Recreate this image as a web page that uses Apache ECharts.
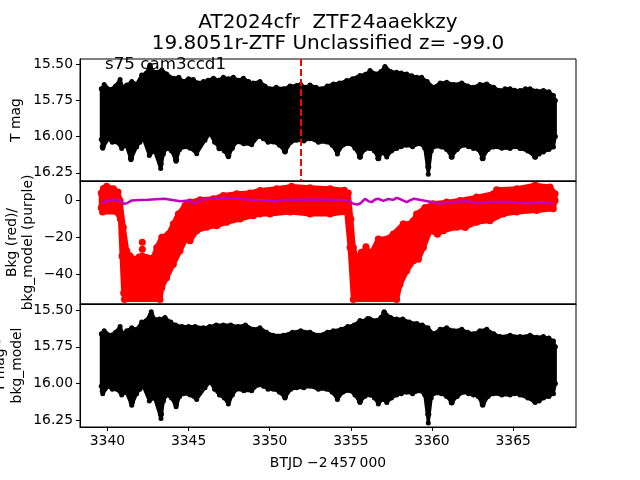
<!DOCTYPE html>
<html>
<head>
<meta charset="utf-8">
<script src="https://cdn.jsdelivr.net/npm/echarts@6/dist/echarts.min.js"></script>
<style>
  html, body { margin: 0; padding: 0; background: #fff; }
  #chart { width: 640px; height: 480px; }
</style>
</head>
<body>
<div id="chart"></div>
<script>
// tick values
var xTicks = [3340, 3345, 3350, 3355, 3360, 3365];
var magTicks = [15.5, 15.75, 16.0, 16.25];
var bkgTicks = [-40, -20, 0];
var markTime = 3351.91;

// T mag envelope (upper = bright edge, lower = faint edge), [BTJD, mag]
var magTop = [
  [3339.62, 15.67], [3339.80, 15.64], [3340.16, 15.675], [3340.50, 15.65], [3340.78, 15.605],
  [3340.95, 15.66], [3341.19, 15.643], [3341.50, 15.62], [3341.80, 15.636], [3342.11, 15.574],
  [3342.40, 15.56], [3342.62, 15.505], [3342.80, 15.55], [3343.03, 15.555], [3343.35, 15.54],
  [3343.65, 15.567], [3344.06, 15.597], [3344.40, 15.59], [3344.68, 15.62], [3345.00, 15.60],
  [3345.29, 15.606], [3345.60, 15.63], [3345.91, 15.62], [3346.20, 15.61], [3346.53, 15.597],
  [3346.85, 15.61], [3347.14, 15.59], [3347.45, 15.60], [3347.76, 15.59], [3348.05, 15.61],
  [3348.38, 15.597], [3348.70, 15.62], [3348.99, 15.629], [3349.40, 15.62], [3349.70, 15.65],
  [3350.02, 15.67], [3350.40, 15.66], [3350.84, 15.67], [3351.25, 15.65], [3351.66, 15.647],
  [3351.91, 15.64], [3352.20, 15.66], [3352.48, 15.643], [3352.85, 15.66], [3353.20, 15.67],
  [3353.55, 15.65], [3353.92, 15.636], [3354.30, 15.63], [3354.74, 15.613], [3355.10, 15.60],
  [3355.56, 15.578], [3355.90, 15.57], [3356.18, 15.544], [3356.59, 15.567], [3356.85, 15.55],
  [3357.10, 15.515], [3357.45, 15.55], [3357.82, 15.555], [3358.10, 15.56], [3358.44, 15.567],
  [3358.75, 15.58], [3359.06, 15.59], [3359.36, 15.59], [3359.70, 15.62], [3360.08, 15.659],
  [3360.50, 15.63], [3360.90, 15.624], [3361.35, 15.64], [3361.83, 15.629], [3362.20, 15.65],
  [3362.55, 15.659], [3362.95, 15.64], [3363.37, 15.636], [3363.80, 15.66], [3364.19, 15.682],
  [3364.50, 15.67], [3364.81, 15.67], [3365.10, 15.68], [3365.42, 15.682], [3365.75, 15.67],
  [3366.04, 15.67], [3366.45, 15.685], [3366.86, 15.682], [3367.20, 15.69], [3367.48, 15.716],
  [3367.60, 15.75]
];
var magBot = [
  [3339.62, 16.02], [3339.71, 16.08], [3340.06, 16.015], [3340.30, 16.04], [3340.57, 16.037],
  [3340.88, 16.083], [3341.15, 16.06], [3341.45, 16.16], [3341.80, 16.072], [3342.00, 16.04],
  [3342.21, 16.015], [3342.58, 16.13], [3342.90, 16.10], [3343.28, 16.22], [3343.45, 16.12],
  [3343.65, 16.083], [3343.95, 16.10], [3344.23, 16.17], [3344.45, 16.09], [3344.68, 16.072],
  [3345.10, 16.08], [3345.50, 16.118], [3346.01, 16.026], [3346.32, 15.98], [3346.60, 16.04],
  [3346.90, 16.079], [3347.20, 16.10], [3347.45, 16.14], [3347.70, 16.08], [3347.96, 16.037],
  [3348.40, 16.05], [3348.89, 16.056], [3349.30, 16.00], [3349.61, 16.015], [3349.90, 16.04],
  [3350.22, 16.037], [3350.60, 16.06], [3350.94, 16.106], [3351.30, 16.04], [3351.66, 16.026],
  [3352.10, 16.03], [3352.48, 16.015], [3353.00, 16.04], [3353.51, 16.037], [3353.85, 16.06],
  [3354.17, 16.12], [3354.50, 16.06], [3354.95, 16.049], [3355.25, 16.08], [3355.56, 16.141],
  [3355.85, 16.09], [3356.18, 16.083], [3356.45, 16.10], [3356.69, 16.152], [3356.95, 16.11],
  [3357.21, 16.141], [3357.50, 16.10], [3357.82, 16.083], [3358.10, 16.07], [3358.44, 16.06],
  [3358.80, 16.07], [3359.26, 16.049], [3359.55, 16.08], [3359.77, 16.26], [3359.95, 16.10],
  [3360.08, 16.072], [3360.59, 16.072], [3360.90, 16.09], [3361.21, 16.141], [3361.55, 16.09],
  [3361.93, 16.06], [3362.25, 16.07], [3362.55, 16.083], [3362.85, 16.09], [3363.12, 16.152],
  [3363.45, 16.09], [3363.78, 16.072], [3364.30, 16.08], [3364.81, 16.083], [3365.10, 16.07],
  [3365.42, 16.083], [3365.90, 16.10], [3366.35, 16.141], [3366.60, 16.12], [3366.86, 16.106],
  [3367.20, 16.09], [3367.48, 16.072], [3367.60, 16.00]
];
var magDots = [
  [3339.71, 16.07], [3341.45, 16.15], [3342.62, 15.52], [3343.28, 16.19], [3344.23, 16.16],
  [3346.90, 16.08], [3347.45, 16.13], [3350.94, 16.10], [3355.56, 16.14], [3356.69, 16.15],
  [3357.10, 15.53], [3359.77, 16.21], [3361.21, 16.14], [3363.12, 16.15], [3366.35, 16.14]
];

// background flux envelope (red) and model (purple)
var bkgTop = [
  [3339.62, 4.0], [3339.75, 6.5], [3339.95, 7.6], [3340.37, 6.3], [3340.65, 4.5],
  [3340.78, 0.0], [3340.98, -14.5], [3341.19, -27.2], [3341.39, -29.9], [3341.70, -31.7],
  [3341.95, -30.5], [3342.15, -30.0], [3342.42, -30.8], [3342.83, -30.8], [3343.04, -25.4],
  [3343.35, -19.9], [3343.76, -18.1], [3344.06, -12.7], [3344.37, -7.3], [3344.78, -2.7],
  [3345.09, -0.9], [3345.71, 0.4], [3346.53, 0.9], [3347.14, 2.7], [3347.96, 3.6],
  [3348.78, 4.0], [3349.40, 5.4], [3350.43, 6.3], [3351.35, 7.6], [3352.48, 6.9],
  [3353.72, 6.3], [3354.60, 5.5], [3354.84, 4.0], [3355.00, -10.0], [3355.15, -25.4],
  [3355.36, -31.7], [3355.65, -28.0], [3355.93, -26.3], [3356.28, -28.1], [3356.69, -20.8],
  [3357.21, -20.8], [3357.62, -18.1], [3358.23, -12.7], [3358.50, -13.0], [3358.85, -10.9],
  [3359.05, -7.3], [3359.57, -4.0], [3360.08, -1.8], [3360.90, -0.9], [3361.72, 0.0],
  [3362.75, 1.8], [3363.78, 3.6], [3363.98, 5.8], [3365.22, 6.3], [3366.35, 8.2],
  [3367.27, 7.3], [3367.58, 3.6]
];
var bkgBot = [
  [3339.62, -4.0], [3339.70, -6.3], [3340.57, -6.3], [3340.80, -10.0], [3340.90, -30.0],
  [3341.00, -50.0], [3341.05, -53.5], [3343.24, -53.5], [3343.35, -47.1], [3343.65, -41.7],
  [3344.06, -34.4], [3344.47, -27.2], [3344.88, -19.9], [3345.09, -21.7], [3345.50, -16.3],
  [3346.12, -14.5], [3346.73, -13.6], [3347.35, -11.8], [3348.17, -10.0], [3348.99, -8.2],
  [3349.40, -7.3], [3350.02, -7.3], [3351.25, -6.3], [3352.48, -7.3], [3353.72, -7.3],
  [3354.74, -6.3], [3354.95, -25.4], [3355.15, -53.5], [3357.82, -53.5], [3358.03, -45.3],
  [3358.44, -38.0], [3358.85, -32.6], [3359.16, -31.7], [3359.47, -25.4], [3359.88, -16.3],
  [3360.33, -18.1], [3360.70, -16.3], [3361.52, -14.5], [3362.05, -14.5], [3362.75, -11.8],
  [3363.57, -10.9], [3364.39, -7.3], [3365.22, -6.3], [3366.45, -5.4], [3367.47, -4.5],
  [3367.58, 0.0]
];
var bkgDots = [
  [3342.15, -22.6], [3342.15, -26.3], [3341.90, -33.0], [3342.30, -34.0], [3355.93, -25.0],
  [3356.10, -30.0], [3358.23, -12.7], [3359.57, -4.0], [3360.33, -18.1], [3362.05, -14.5],
  [3366.35, 8.2]
];
var bkgModel = [
  [3339.65, -1.4], [3340.0, -0.3], [3340.4, 0.4], [3340.8, -0.4], [3341.0, -1.8],
  [3341.2, -1.5], [3341.5, 0.0], [3342.0, 0.3], [3342.5, 0.4], [3343.0, 0.7],
  [3343.5, 0.9], [3344.0, 0.3], [3344.5, -0.4], [3345.0, 0.0], [3345.2, -1.0],
  [3345.4, -1.8], [3345.7, 0.3], [3346.2, 0.8], [3346.8, 1.2], [3347.4, 1.5],
  [3348.0, 1.0], [3348.6, 0.5], [3349.2, 0.2], [3349.8, 0.0], [3350.3, -0.4],
  [3350.9, 0.2], [3351.5, 0.4], [3352.1, 0.5], [3352.7, 0.4], [3353.3, 0.5],
  [3353.9, 0.3], [3354.5, 0.2], [3354.9, -0.3], [3355.15, -1.8], [3355.4, -2.2],
  [3355.6, -1.5], [3355.87, 0.9], [3356.1, -0.5], [3356.28, -0.9], [3356.5, 0.5],
  [3356.69, 0.9], [3357.0, -0.2], [3357.3, 0.8], [3357.6, 0.3], [3357.82, 1.4],
  [3358.1, 0.5], [3358.44, -0.9], [3358.7, 0.3], [3358.9, 0.9], [3359.3, 0.2],
  [3359.7, -0.4], [3360.1, -1.0], [3360.5, -1.8], [3360.9, -1.2], [3361.3, -0.9],
  [3361.8, -0.5], [3362.2, -0.4], [3362.75, -1.45], [3363.3, -0.8], [3363.8, -0.9],
  [3364.4, -0.7], [3364.9, -0.9], [3365.5, -1.2], [3366.0, -1.45], [3366.5, -1.0],
  [3367.0, -1.3], [3367.47, -1.8]
];

// T mag - bkg_model envelope
var subTop = [
  [3339.62, 15.66], [3339.80, 15.64], [3340.16, 15.67], [3340.50, 15.65], [3340.78, 15.61],
  [3340.95, 15.66], [3341.19, 15.64], [3341.50, 15.62], [3341.80, 15.63], [3342.11, 15.58],
  [3342.40, 15.57], [3342.70, 15.51], [3342.90, 15.56], [3343.20, 15.56], [3343.55, 15.55],
  [3343.90, 15.58], [3344.20, 15.60], [3344.60, 15.61], [3345.00, 15.61], [3345.40, 15.61],
  [3345.91, 15.62], [3346.30, 15.61], [3346.70, 15.60], [3347.14, 15.60], [3347.60, 15.60],
  [3348.05, 15.61], [3348.50, 15.60], [3348.99, 15.63], [3349.40, 15.62], [3349.80, 15.65],
  [3350.20, 15.67], [3350.84, 15.67], [3351.40, 15.65], [3351.91, 15.64], [3352.48, 15.65],
  [3353.00, 15.67], [3353.55, 15.65], [3353.92, 15.64], [3354.40, 15.63], [3354.80, 15.61],
  [3355.20, 15.60], [3355.56, 15.57], [3355.90, 15.57], [3356.18, 15.56], [3356.59, 15.57],
  [3356.85, 15.55], [3357.05, 15.51], [3357.45, 15.55], [3357.82, 15.56], [3358.20, 15.56],
  [3358.60, 15.58], [3359.06, 15.59], [3359.40, 15.60], [3359.75, 15.62], [3360.08, 15.66],
  [3360.50, 15.63], [3360.90, 15.62], [3361.35, 15.64], [3361.83, 15.63], [3362.20, 15.65],
  [3362.55, 15.66], [3362.95, 15.64], [3363.37, 15.63], [3363.80, 15.66], [3364.19, 15.68],
  [3364.81, 15.67], [3365.42, 15.68], [3366.04, 15.67], [3366.45, 15.685], [3366.86, 15.68],
  [3367.20, 15.69], [3367.48, 15.71], [3367.60, 15.75]
];
var subBot = [
  [3339.62, 16.02], [3339.71, 16.07], [3340.06, 16.02], [3340.30, 16.04], [3340.57, 16.04],
  [3340.88, 16.08], [3341.15, 16.06], [3341.50, 16.15], [3341.80, 16.07], [3342.00, 16.04],
  [3342.21, 16.02], [3342.58, 16.12], [3342.90, 16.10], [3343.30, 16.24], [3343.45, 16.12],
  [3343.65, 16.08], [3343.95, 16.10], [3344.23, 16.16], [3344.45, 16.09], [3344.68, 16.07],
  [3345.10, 16.08], [3345.50, 16.11], [3346.01, 16.03], [3346.32, 15.99], [3346.60, 16.04],
  [3346.90, 16.08], [3347.20, 16.10], [3347.45, 16.14], [3347.70, 16.08], [3347.96, 16.04],
  [3348.40, 16.05], [3348.89, 16.05], [3349.30, 16.01], [3349.61, 16.02], [3349.90, 16.04],
  [3350.22, 16.04], [3350.60, 16.06], [3350.94, 16.10], [3351.30, 16.04], [3351.66, 16.03],
  [3352.10, 16.03], [3352.48, 16.02], [3353.00, 16.04], [3353.51, 16.04], [3353.85, 16.06],
  [3354.17, 16.11], [3354.50, 16.06], [3354.95, 16.05], [3355.25, 16.08], [3355.56, 16.13],
  [3355.85, 16.09], [3356.18, 16.08], [3356.45, 16.10], [3356.69, 16.14], [3356.95, 16.11],
  [3357.21, 16.13], [3357.50, 16.10], [3357.82, 16.08], [3358.10, 16.07], [3358.44, 16.06],
  [3358.80, 16.07], [3359.26, 16.05], [3359.55, 16.08], [3359.77, 16.27], [3359.95, 16.10],
  [3360.08, 16.07], [3360.59, 16.07], [3360.90, 16.09], [3361.21, 16.13], [3361.55, 16.09],
  [3361.93, 16.06], [3362.25, 16.07], [3362.55, 16.08], [3362.85, 16.09], [3363.12, 16.15],
  [3363.45, 16.09], [3363.78, 16.07], [3364.30, 16.08], [3364.81, 16.08], [3365.10, 16.07],
  [3365.42, 16.08], [3365.90, 16.10], [3366.35, 16.13], [3366.60, 16.12], [3366.86, 16.10],
  [3367.20, 16.09], [3367.48, 16.07], [3367.60, 16.00]
];
var subDots = [
  [3339.71, 16.05], [3341.50, 16.13], [3342.70, 15.53], [3343.30, 16.21], [3344.23, 16.14],
  [3347.45, 16.12], [3350.94, 16.09], [3355.56, 16.12], [3356.05, 15.56], [3357.05, 15.52],
  [3359.77, 16.21], [3361.21, 16.13], [3363.12, 16.14], [3366.35, 16.12]
];

var myChart = echarts.init(document.getElementById('chart'));
var FONT = '"DejaVu Sans", sans-serif';
var tickFont = { fontFamily: FONT, fontSize: 13.9, color: '#000' };

function band(idx, top, bot, color, lw) {
  return {
    type: 'custom',
    xAxisIndex: idx,
    yAxisIndex: idx,
    silent: true,
    data: [top[0]],
    renderItem: function (params, api) {
      var pts = [];
      top.forEach(function (p) { pts.push(api.coord(p)); });
      bot.slice().reverse().forEach(function (p) { pts.push(api.coord(p)); });
      return {
        type: 'polygon',
        shape: { points: pts },
        style: { fill: color, stroke: color, lineWidth: lw, lineJoin: 'round' }
      };
    }
  };
}

function dots(idx, data, color, size) {
  return {
    type: 'scatter', xAxisIndex: idx, yAxisIndex: idx, silent: true,
    symbolSize: size, itemStyle: { color: color, opacity: 1 }, data: data
  };
}

function xAx(idx, labels) {
  return {
    type: 'value', gridIndex: idx, min: 3338.31, max: 3368.87,
    axisLine: { show: true, onZero: false, lineStyle: { color: '#000', width: 1 } },
    axisTick: { show: labels, customValues: xTicks, length: 4, lineStyle: { color: '#000' } },
    axisLabel: Object.assign({ show: labels, customValues: xTicks, margin: 7,
      formatter: function (v) { return String(v); } }, tickFont),
    splitLine: { show: false }
  };
}

function yAx(idx, min, max, ticks, inverse, fmt) {
  return {
    type: 'value', gridIndex: idx, min: min, max: max, inverse: inverse,
    axisLine: { show: true, onZero: false, lineStyle: { color: '#000', width: 1 } },
    axisTick: { show: true, customValues: ticks, length: 4, lineStyle: { color: '#000' } },
    axisLabel: Object.assign({ customValues: ticks, margin: 7, formatter: fmt }, tickFont),
    splitLine: { show: false }
  };
}

var magFmt = function (v) { return v.toFixed(2); };
var bkgFmt = function (v) { return String(v).replace('-', '\u2212'); };

function label(text, x, y, size, rot, align) {
  return {
    type: 'text', x: x, y: y, rotation: rot || 0, silent: true,
    style: { text: text, fill: '#000', font: size + 'px ' + FONT,
      align: align || 'center', verticalAlign: 'middle' }
  };
}

myChart.setOption({
  animation: false,
  grid: [
    { left: 80, right: 64, top: 59, height: 122, show: true, borderColor: '#000', borderWidth: 1 },
    { left: 80, right: 64, top: 181, height: 123, show: true, borderColor: '#000', borderWidth: 1 },
    { left: 80, right: 64, top: 304, height: 123, show: true, borderColor: '#000', borderWidth: 1 }
  ],
  xAxis: [xAx(0, false), xAx(1, false), xAx(2, true)],
  yAxis: [
    yAx(0, 15.464, 16.307, magTicks, true, magFmt),
    yAx(1, -55.9, 10.5, bkgTicks, false, bkgFmt),
    yAx(2, 15.457, 16.298, magTicks, true, magFmt)
  ],
  graphic: [
    label('AT2024cfr  ZTF24aaekkzy', 328, 22.5, 20),
    label('19.8051r-ZTF Unclassified z= -99.0', 328, 43.5, 20),
    label('s75 cam3ccd1', 105, 65, 16.7, 0, 'left'),
    label('T mag', 16.3, 120, 13.9, Math.PI / 2),
    label('Bkg (red)/', 12, 242.5, 13.9, Math.PI / 2),
    label('bkg_model (purple)', 28.5, 242.5, 13.9, Math.PI / 2),
    label('T mag -', 0.8, 365.5, 13.9, Math.PI / 2),
    label('bkg_model', 17.5, 365.5, 13.9, Math.PI / 2),
    label('BTJD \u22122\u2009457\u2009000', 328, 463, 13.9)
  ],
  series: [
    band(0, magTop, magBot, '#000', 3),
    dots(0, magTop.concat(magBot), '#000', 5),
    Object.assign(dots(0, magDots, '#000', 6), {
      markLine: {
        silent: true, symbol: ['none', 'none'], label: { show: false },
        lineStyle: { color: '#ff0000', width: 2, type: [7, 3] },
        data: [{ xAxis: markTime }]
      }
    }),
    band(1, bkgTop, bkgBot, '#ff0000', 5),
    dots(1, bkgTop.concat(bkgBot), '#ff0000', 7),
    dots(1, bkgDots, '#ff0000', 7),
    {
      type: 'line', xAxisIndex: 1, yAxisIndex: 1, silent: true, showSymbol: false,
      lineStyle: { color: '#bf00bf', width: 2.5 }, data: bkgModel
    },
    band(2, subTop, subBot, '#000', 3),
    dots(2, subTop.concat(subBot), '#000', 5),
    dots(2, subDots, '#000', 6)
  ]
});
window.addEventListener('resize', function () {
  myChart.resize();
});
</script>
</body>
</html>
